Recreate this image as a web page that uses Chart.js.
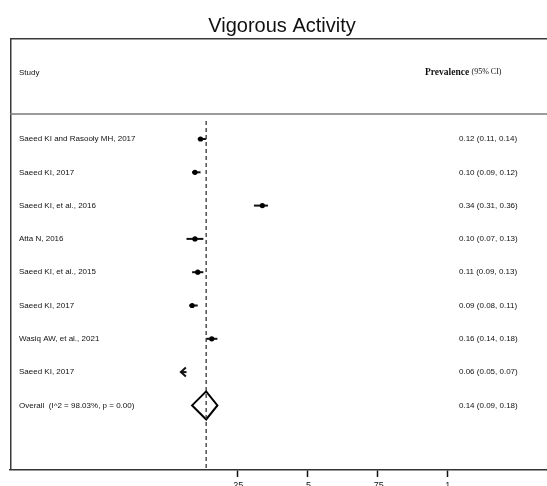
<!DOCTYPE html>
<html>
<head>
<meta charset="utf-8">
<script src="https://cdn.jsdelivr.net/npm/chart.js@4/dist/chart.umd.min.js"></script>
<style>
html,body{margin:0;padding:0;background:#fff;overflow:hidden}
#wrap{position:relative;width:554px;height:486px}
</style>
</head>
<body>
<div id="wrap"><canvas id="c"></canvas></div>
<script>
// ---- data ----
const chartTitle = 'Vigorous Activity';
const headerStudy = 'Study';
const headerEffect = 'Prevalence';
const headerCi = '(95% CI)';
const studies = [
  'Saeed KI and Rasooly MH, 2017',
  'Saeed KI, 2017',
  'Saeed KI, et al., 2016',
  'Atta N, 2016',
  'Saeed KI, et al., 2015',
  'Saeed KI, 2017',
  'Wasiq AW, et al., 2021',
  'Saeed KI, 2017'
];
const estimates = [0.12, 0.10, 0.34, 0.10, 0.11, 0.09, 0.16, 0.06];
const lowerCI   = [0.11, 0.09, 0.31, 0.07, 0.09, 0.08, 0.14, 0.05];
const upperCI   = [0.14, 0.12, 0.36, 0.13, 0.13, 0.11, 0.18, 0.07];
const clippedLeft = [false, false, false, false, false, false, false, true];
const overallLabel = 'Overall  (I^2 = 98.03%, p = 0.00)';
const overallEstimate = 0.14;
const overallLower = 0.09;
const overallUpper = 0.18;
const xTicks = [0.25, 0.5, 0.75, 1];
const xTickLabels = ['.25', '.5', '.75', '1'];

const fmt = (e, l, u) => `${e.toFixed(2)} (${l.toFixed(2)}, ${u.toFixed(2)})`;

// ---- layout (row units on y scale) ----
const Y_MIN = -3.033, Y_MAX = 9.94;
const HEADER_ROW = -2.0, HEADER_RULE = -0.75, DASH_START = -0.54;
const DIAMOND_HALF = 0.42;
const TEXT_LEFT_X = 19, TEXT_CI_X = 459, TEXT_HEADER_X = 425;
const SANS = "'Liberation Sans', Arial, sans-serif";
const SERIF = "'Liberation Serif', 'Times New Roman', serif";

const forestPlugin = {
  id: 'forest',
  beforeDatasetsDraw(chart) {
    const { ctx, chartArea: a, scales: { x, y } } = chart;
    ctx.save();
    // frame (left + top)
    ctx.strokeStyle = '#3a3a3a';
    ctx.lineWidth = 1.5;
    ctx.beginPath();
    ctx.moveTo(a.left + 0.75, a.bottom);
    ctx.lineTo(a.left + 0.75, a.top + 0.75);
    ctx.lineTo(a.right, a.top + 0.75);
    ctx.stroke();
    // header rule
    const hy = y.getPixelForValue(HEADER_RULE);
    ctx.strokeStyle = '#7a7a7a';
    ctx.lineWidth = 1.5;
    ctx.beginPath();
    ctx.moveTo(a.left, hy);
    ctx.lineTo(a.right, hy);
    ctx.stroke();
    // confidence intervals
    ctx.strokeStyle = '#111';
    ctx.lineWidth = 2;
    estimates.forEach((e, i) => {
      const py = y.getPixelForValue(i);
      const x0 = x.getPixelForValue(lowerCI[i]);
      const x1 = x.getPixelForValue(upperCI[i]);
      ctx.beginPath();
      ctx.moveTo(x0, py);
      ctx.lineTo(x1, py);
      ctx.stroke();
      if (clippedLeft[i]) {
        ctx.beginPath();
        ctx.moveTo(x0 + 5, py - 4.5);
        ctx.lineTo(x0, py);
        ctx.lineTo(x0 + 5, py + 4.5);
        ctx.stroke();
      }
    });
    // overall diamond
    const row = studies.length;
    ctx.lineWidth = 2;
    ctx.strokeStyle = '#000';
    ctx.beginPath();
    ctx.moveTo(x.getPixelForValue(overallLower), y.getPixelForValue(row));
    ctx.lineTo(x.getPixelForValue(overallEstimate), y.getPixelForValue(row - DIAMOND_HALF));
    ctx.lineTo(x.getPixelForValue(overallUpper), y.getPixelForValue(row));
    ctx.lineTo(x.getPixelForValue(overallEstimate), y.getPixelForValue(row + DIAMOND_HALF));
    ctx.closePath();
    ctx.stroke();
    ctx.restore();
  },
  afterDraw(chart) {
    const { ctx, scales: { y } } = chart;
    ctx.save();
    ctx.fillStyle = '#111';
    ctx.textBaseline = 'middle';
    ctx.textAlign = 'left';
    // headers
    ctx.font = `8px ${SANS}`;
    ctx.fillText(headerStudy, TEXT_LEFT_X, y.getPixelForValue(HEADER_ROW));
    ctx.font = `bold 9.5px ${SERIF}`;
    ctx.fillText(headerEffect, TEXT_HEADER_X, y.getPixelForValue(HEADER_ROW));
    const w = ctx.measureText(headerEffect + ' ').width;
    ctx.font = `8px ${SERIF}`;
    ctx.fillText(headerCi, TEXT_HEADER_X + w, y.getPixelForValue(HEADER_ROW));
    // rows
    ctx.font = `8px ${SANS}`;
    studies.forEach((s, i) => {
      const py = y.getPixelForValue(i);
      ctx.fillText(s, TEXT_LEFT_X, py);
      ctx.fillText(fmt(estimates[i], lowerCI[i], upperCI[i]), TEXT_CI_X, py);
    });
    const oy = y.getPixelForValue(studies.length);
    ctx.fillText(overallLabel, TEXT_LEFT_X, oy);
    ctx.fillText(fmt(overallEstimate, overallLower, overallUpper), TEXT_CI_X, oy);
    ctx.restore();
  }
};

new Chart(document.getElementById('c'), {
  type: 'scatter',
  data: {
    datasets: [
      {
        label: 'studies',
        data: estimates.map((e, i) => ({ x: e, y: i })),
        pointRadius: clippedLeft.map(c => (c ? 0 : 2.6)),
        pointBackgroundColor: '#000',
        pointBorderWidth: 0,
        showLine: false,
        order: 1
      },
      {
        label: 'overall line',
        data: [{ x: overallEstimate, y: DASH_START }, { x: overallEstimate, y: Y_MAX }],
        showLine: true,
        borderColor: '#333',
        borderWidth: 1.3,
        borderDash: [4, 3],
        pointRadius: 0,
        order: 2
      }
    ]
  },
  options: {
    responsive: true,
    maintainAspectRatio: false,
    animation: false,
    devicePixelRatio: 1,
    layout: { padding: { left: 10, right: 0, top: 0, bottom: 0 } },
    plugins: {
      legend: { display: false },
      tooltip: { enabled: false },
      title: {
        display: true,
        text: chartTitle,
        color: '#111',
        font: { family: SANS, size: 20, weight: 'normal', lineHeight: 1.2 },
        padding: { top: 14, bottom: 0 }
      }
    },
    scales: {
      x: {
        type: 'linear',
        position: 'bottom',
        min: -0.5583,
        max: 1.364,
        afterBuildTicks: s => { s.ticks = xTicks.map(v => ({ value: v })); },
        afterFit: s => { s.height = 16; },
        ticks: {
          autoSkip: false,
          maxRotation: 0,
          padding: 3,
          color: '#111',
          font: { family: SANS, size: 9 },
          callback: v => xTickLabels[xTicks.indexOf(v)]
        },
        grid: { drawOnChartArea: false, drawTicks: true, tickLength: 7, tickColor: '#111', tickWidth: 1.5 },
        border: { display: true, color: '#333', width: 1.5 }
      },
      y: {
        type: 'linear',
        min: Y_MIN,
        max: Y_MAX,
        reverse: true,
        display: false
      }
    }
  },
  plugins: [forestPlugin]
});
</script>
</body>
</html>
